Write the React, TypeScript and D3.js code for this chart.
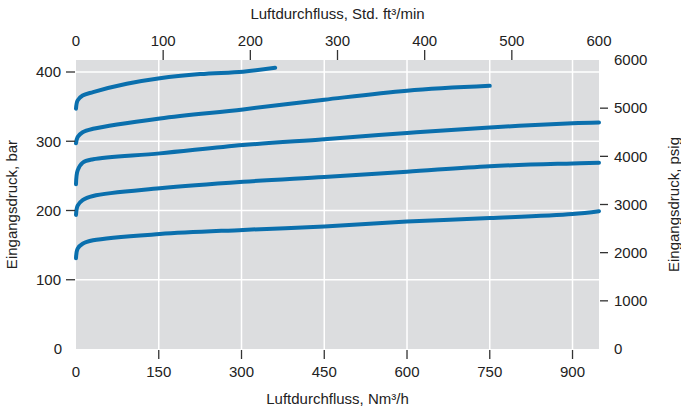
import React from 'react';
import * as d3 from 'd3';

// Luftdurchfluss (Nm³/h) und Eingangsdruck (bar) je Kurve
const flow1 = [0, 3, 12, 31, 92, 152, 225, 303, 361];
const bar1 = [347, 359, 366, 371, 383, 391, 397, 400.5, 406];

const flow2 = [0, 3, 12, 31, 152, 303, 450, 600, 750];
const bar2 = [297, 306, 313, 318, 333, 346, 360, 373, 380];

const flow3 = [0, 3, 12, 31, 152, 303, 450, 600, 750, 900, 948];
const bar3 = [238, 258, 269, 274, 282.5, 294.5, 303, 312, 320, 326, 327];

const flow4 = [0, 3, 12, 31, 152, 303, 450, 600, 750, 900, 948];
const bar4 = [193.5, 207, 215, 221, 232, 241.5, 248.5, 256, 264, 268, 269];

const flow5 = [0, 3, 12, 31, 152, 303, 450, 600, 750, 900, 948];
const bar5 = [131, 145, 152, 157, 166, 172, 177, 184, 189, 195, 199];

const bottomTicks = [0, 150, 300, 450, 600, 750, 900];
const topTicks = [0, 100, 200, 300, 400, 500, 600];
const leftTicks = [0, 100, 200, 300, 400];
const rightTicks = [0, 1000, 2000, 3000, 4000, 5000, 6000];

const W = 681;
const H = 414;
const FONT = '"Liberation Sans", Arial, Helvetica, sans-serif';
const TXT = '#222';
const BLUE = '#0a6fad';

const App: React.FC = () => {
  const left = 76, right = 599, top = 60, bottom = 349;

  const x = d3.scaleLinear().domain([0, 948]).range([left, right]);
  const xTop = d3.scaleLinear().domain([0, 600]).range([left, right]);
  const y = d3.scaleLinear().domain([0, 400]).range([bottom, 72]);
  const yPsi = d3.scaleLinear().domain([0, 6000]).range([bottom, top]);

  const series = [
    flow1.map((f, i) => [f, bar1[i]] as [number, number]),
    flow2.map((f, i) => [f, bar2[i]] as [number, number]),
    flow3.map((f, i) => [f, bar3[i]] as [number, number]),
    flow4.map((f, i) => [f, bar4[i]] as [number, number]),
    flow5.map((f, i) => [f, bar5[i]] as [number, number]),
  ];

  const line = d3.line<[number, number]>()
    .x(d => x(d[0]))
    .y(d => y(d[1]))
    .curve(d3.curveCatmullRom.alpha(0.5));

  return (
    <svg width={W} height={H} style={{ position: 'absolute', left: 0, top: 0 }} fontFamily={FONT}>
      {/* Diagrammfläche */}
      <rect x={left} y={top} width={right - left} height={bottom - top} fill="#dcdddf" />

      {/* Gitter */}
      {bottomTicks.filter(t => t > 0).map(t => (
        <line key={'gx' + t} x1={x(t)} x2={x(t)} y1={top} y2={bottom} stroke="#fff" strokeWidth={1.5} />
      ))}
      {leftTicks.filter(t => t > 0).map(t => (
        <line key={'gy' + t} x1={left} x2={right} y1={y(t)} y2={y(t)} stroke="#fff" strokeWidth={1.5} />
      ))}

      {/* Kurven */}
      {series.map((s, i) => (
        <path key={'s' + i} d={line(s) || ''} fill="none" stroke={BLUE} strokeWidth={4} strokeLinecap="round" />
      ))}

      {/* untere Achse */}
      {bottomTicks.map(t => (
        <g key={'b' + t}>
          {t > 0 && <line x1={x(t)} x2={x(t)} y1={bottom + 1} y2={bottom + 10} stroke="#333" strokeWidth={1.3} />}
          <text x={x(t)} y={377} textAnchor="middle" fontSize={15} fill={TXT}>{t}</text>
        </g>
      ))}
      <text x={(left + right) / 2} y={404} textAnchor="middle" fontSize={15} fill={TXT}>Luftdurchfluss, Nm³/h</text>

      {/* obere Achse */}
      {topTicks.map(t => (
        <g key={'t' + t}>
          {t > 0 && t < 600 && <line x1={xTop(t)} x2={xTop(t)} y1={top - 10} y2={top} stroke="#333" strokeWidth={1.3} />}
          <text x={xTop(t)} y={46} textAnchor="middle" fontSize={15} fill={TXT}>{t}</text>
        </g>
      ))}
      <text x={(left + right) / 2} y={19} textAnchor="middle" fontSize={15} fill={TXT}>Luftdurchfluss, Std. ft³/min</text>

      {/* linke Achse */}
      {leftTicks.map(t => (
        <g key={'l' + t}>
          {t > 0 && <line x1={66} x2={75} y1={y(t)} y2={y(t)} stroke="#333" strokeWidth={1.3} />}
          <text x={t > 0 ? 61 : 62} y={y(t)} dy="0.35em" textAnchor="end" fontSize={15} fill={TXT}>{t}</text>
        </g>
      ))}
      <text transform={`translate(17,${(top + bottom) / 2}) rotate(-90)`} textAnchor="middle" fontSize={15} fill={TXT}>Eingangsdruck, bar</text>

      {/* rechte Achse */}
      {rightTicks.map(t => (
        <g key={'r' + t}>
          {t > 0 && t < 6000 && <line x1={600} x2={608} y1={yPsi(t)} y2={yPsi(t)} stroke="#333" strokeWidth={1.3} />}
          <text x={614} y={yPsi(t)} dy="0.35em" textAnchor="start" fontSize={15} fill={TXT}>{t}</text>
        </g>
      ))}
      <text transform={`translate(679,${(top + bottom) / 2}) rotate(-90)`} textAnchor="middle" fontSize={15} fill={TXT}>Eingangsdruck, psig</text>
    </svg>
  );
};

export default App;
